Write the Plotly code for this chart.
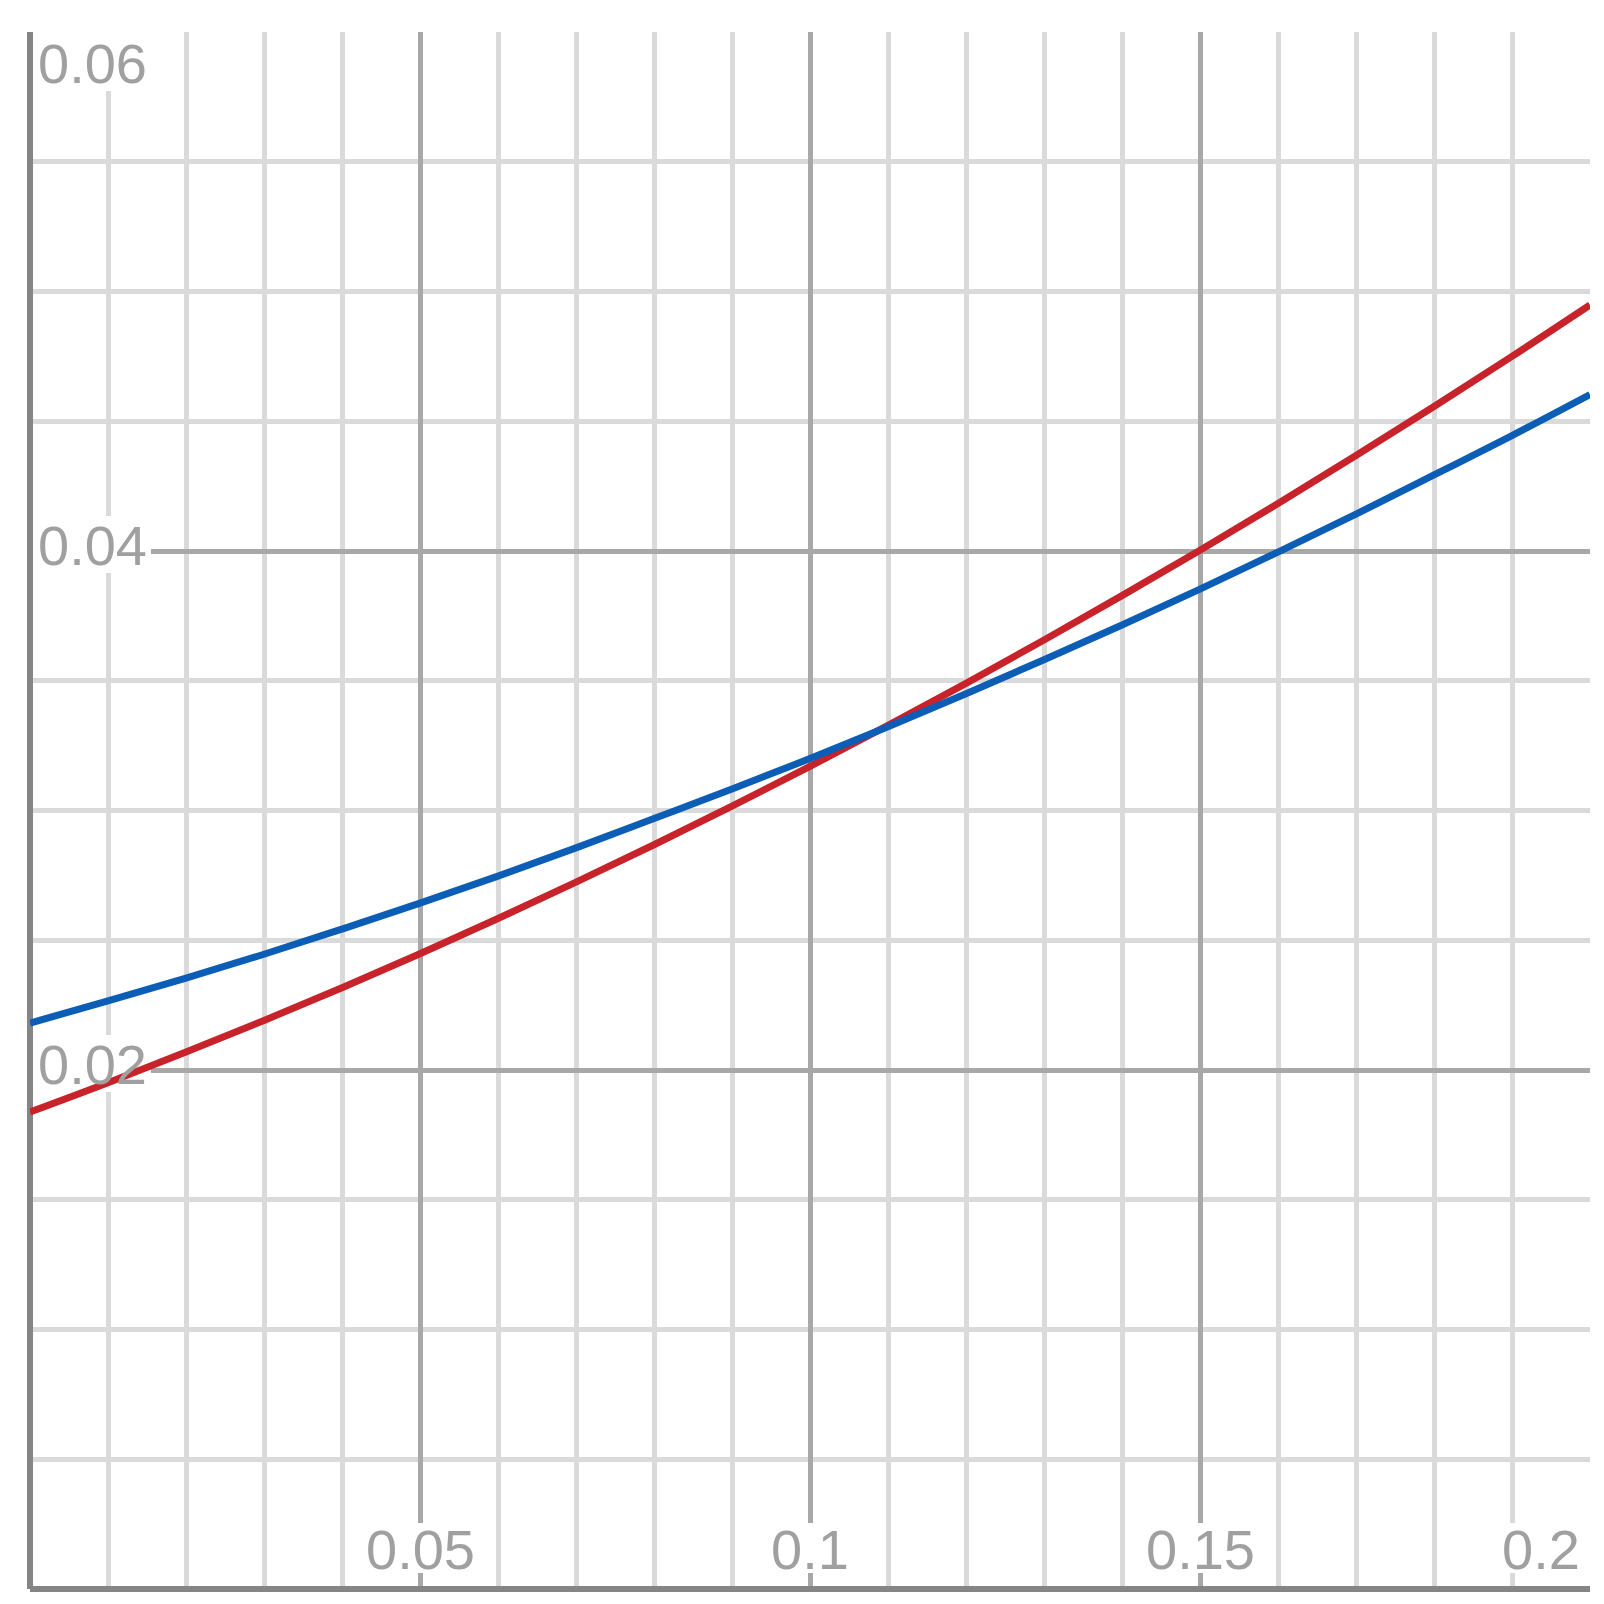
import plotly.graph_objects as go

# ---- data ----
x_vals = [0.00, 0.01, 0.02, 0.03, 0.04, 0.05, 0.06, 0.07, 0.08, 0.09, 0.10,
          0.11, 0.12, 0.13, 0.14, 0.15, 0.16, 0.17, 0.18, 0.19, 0.20]
blue_vals = [0.02181, 0.02266, 0.02354, 0.02446, 0.02543, 0.02643, 0.02747,
             0.02856, 0.02969, 0.03083, 0.03200, 0.03323, 0.03450, 0.03581,
             0.03715, 0.03853, 0.03996, 0.04142, 0.04293, 0.04445, 0.04603]
red_vals = [0.01838, 0.01951, 0.02069, 0.02191, 0.02317, 0.02448, 0.02584,
            0.02724, 0.02868, 0.03017, 0.03170, 0.03328, 0.03490, 0.03657,
            0.03828, 0.04003, 0.04183, 0.04368, 0.04557, 0.04750, 0.04948]

x_tick_vals = [0.05, 0.10, 0.15, 0.20]
x_tick_text = ["0.05", "0.1", "0.15", "0.2"]
y_tick_vals = [0.02, 0.04, 0.06]
y_tick_text = ["0.02", "0.04", "0.06"]

X_RANGE = [0, 0.2]
Y_RANGE = [0, 0.06]

BLUE = "#0b5db5"
RED = "#c8222a"
LABEL_COLOR = "#a0a0a0"
FONT = "Liberation Sans, Arial, sans-serif"
FONT_SIZE = 56

fig = go.Figure()
fig.add_trace(go.Scatter(x=x_vals, y=red_vals, mode="lines",
                         line=dict(color=RED, width=7, shape="spline"),
                         showlegend=False, hoverinfo="skip"))
fig.add_trace(go.Scatter(x=x_vals, y=blue_vals, mode="lines",
                         line=dict(color=BLUE, width=7, shape="spline"),
                         showlegend=False, hoverinfo="skip"))

# white label backgrounds (between grid and traces)
shapes = []
for t in y_tick_vals:
    top_edge = t >= Y_RANGE[1]
    shapes.append(dict(type="rect", layer="between",
                       xref="x", xsizemode="pixel", xanchor=X_RANGE[0], x0=3, x1=121,
                       yref="y", ysizemode="pixel", yanchor=t,
                       y0=-59 if top_edge else -22, y1=0 if top_edge else 35,
                       fillcolor="white", line=dict(width=0)))
for t in x_tick_vals:
    right_edge = t >= X_RANGE[1]
    shapes.append(dict(type="rect", layer="between",
                       xref="x", xsizemode="pixel", xanchor=t,
                       x0=-97 if right_edge else -62, x1=-2 if right_edge else 62,
                       yref="y", ysizemode="pixel", yanchor=Y_RANGE[0], y0=16, y1=66,
                       fillcolor="white", line=dict(width=0)))

annotations = []
for t, s in zip(y_tick_vals, y_tick_text):
    annotations.append(dict(x=X_RANGE[0], y=t, xref="x", yref="y", text=s,
                            showarrow=False, xanchor="left", yanchor="middle",
                            xshift=6, yshift=-31 if t >= Y_RANGE[1] else 6,
                            font=dict(family=FONT, size=FONT_SIZE, color=LABEL_COLOR)))
for t, s in zip(x_tick_vals, x_tick_text):
    right_edge = t >= X_RANGE[1]
    annotations.append(dict(x=t, y=Y_RANGE[0], xref="x", yref="y", text=s,
                            showarrow=False, xanchor="right" if right_edge else "center",
                            yanchor="middle", xshift=-8 if right_edge else 0, yshift=40,
                            font=dict(family=FONT, size=FONT_SIZE, color=LABEL_COLOR)))

fig.update_layout(
    width=1604, height=1604,
    margin=dict(l=22, r=22, t=24, b=23),
    paper_bgcolor="white", plot_bgcolor="white",
    shapes=shapes, annotations=annotations,
    xaxis=dict(range=X_RANGE, dtick=0.05, tick0=0, showticklabels=False, ticks="",
               showgrid=True, gridcolor="#a8a8a8", gridwidth=5,
               minor=dict(dtick=0.01, tick0=0, showgrid=True, gridcolor="#dadada", gridwidth=5),
               zeroline=True, zerolinecolor="#858585", zerolinewidth=6,
               showline=False, fixedrange=True),
    yaxis=dict(range=Y_RANGE, dtick=0.02, tick0=0, showticklabels=False, ticks="",
               showgrid=True, gridcolor="#a8a8a8", gridwidth=5,
               minor=dict(dtick=0.005, tick0=0, showgrid=True, gridcolor="#dadada", gridwidth=5),
               zeroline=True, zerolinecolor="#858585", zerolinewidth=6,
               showline=False, fixedrange=True),
)

fig.write_html("out.html")
